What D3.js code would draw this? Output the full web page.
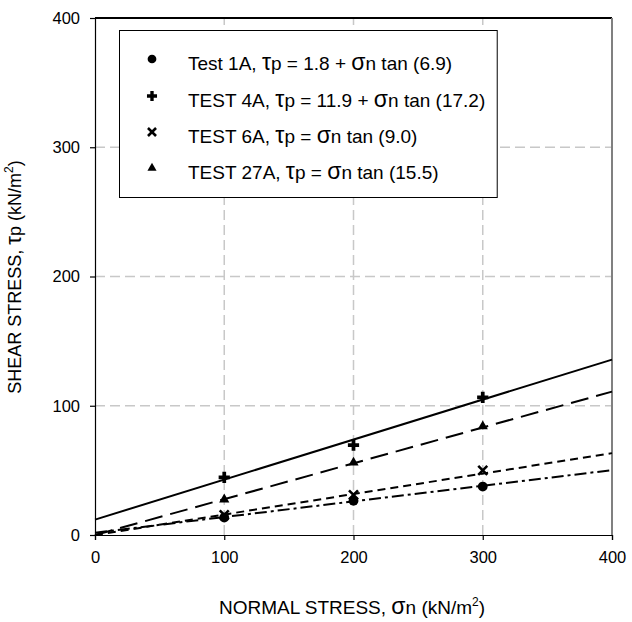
<!DOCTYPE html>
<html>
<head>
<meta charset="utf-8">
<script src="https://cdn.jsdelivr.net/npm/d3@7"></script>
<style>
  html, body { margin: 0; padding: 0; background: #fff; }
  svg { display: block; font-family: "Liberation Sans", Arial, sans-serif; }
</style>
</head>
<body>
<svg id="chart" width="632" height="622"></svg>
<script>
// Peak shear strength test results
const normalStress = [100, 200, 300];
const test1A  = [13.5, 26.5, 37.5];
const test4A  = [44.5, 69.5, 106.5];
const test6A  = [15.5, 31, 50];
const test27A = [27.5, 56, 84];

// Failure envelopes: tau = c + sigma * tan(phi)
const seriesNames = ["Test 1A", "TEST 4A", "TEST 6A", "TEST 27A"];
const cohesion = [1.8, 11.9, 0, 0];
const frictionAngle = [6.9, 17.2, 9.0, 15.5];
const cohesionLabels = ["1.8 + ", "11.9 + ", "", ""];
const angleLabels = ["6.9", "17.2", "9.0", "15.5"];

const xTicks = [0, 100, 200, 300, 400];
const yTicks = [0, 100, 200, 300, 400];

const svg = d3.select("#chart");
const x = d3.scaleLinear().domain([0, 400]).range([95, 612]);
const y = d3.scaleLinear().domain([0, 400]).range([535, 18]);

// grid
const grid = svg.append("g").attr("stroke", "#c8c8c8").attr("stroke-width", 1.5)
  .attr("stroke-dasharray", "10,5");
grid.selectAll(".gx").data([100, 200, 300]).join("line")
  .attr("x1", d => x(d)).attr("x2", d => x(d)).attr("y1", y(0)).attr("y2", y(400));
grid.selectAll(".gy").data([100, 200, 300]).join("line")
  .attr("y1", d => y(d)).attr("y2", d => y(d)).attr("x1", x(0)).attr("x2", x(400));

// plot frame top and right
svg.append("line").attr("x1", x(0)).attr("x2", x(400)).attr("y1", y(400)).attr("y2", y(400))
  .attr("stroke", "#000").attr("stroke-width", 1.8);
svg.append("line").attr("x1", x(400)).attr("x2", x(400)).attr("y1", y(400)).attr("y2", y(0))
  .attr("stroke", "#808080").attr("stroke-width", 2);

// axes
const xAxis = d3.axisBottom(x).tickValues(xTicks).tickSize(5).tickPadding(11).tickFormat(d3.format("d"));
const yAxis = d3.axisLeft(y).tickValues(yTicks).tickSize(5).tickPadding(10).tickFormat(d3.format("d"));
const gx = svg.append("g").attr("transform", `translate(0,${y(0)})`).call(xAxis);
const gy = svg.append("g").attr("transform", `translate(${x(0)},0)`).call(yAxis);
[gx, gy].forEach(g => {
  g.select(".domain").attr("stroke", "#000").attr("stroke-width", 1.2);
  g.selectAll(".tick line").attr("stroke", "#000").attr("stroke-width", 1.2);
  g.selectAll(".tick text").attr("font-size", 16.5).attr("fill", "#000")
    .attr("font-family", "Liberation Sans, Arial, sans-serif");
});

// fitted envelopes
const dashes = ["12,4,3,4", null, "8,5", "18,8"];
const envelopes = seriesNames.map((name, i) => ({
  name,
  pts: [0, 400].map(s => [s, cohesion[i] + s * Math.tan(frictionAngle[i] * Math.PI / 180)])
}));
const line = d3.line().x(d => x(d[0])).y(d => y(d[1]));
svg.append("g").selectAll("path").data(envelopes).join("path")
  .attr("d", d => line(d.pts))
  .attr("fill", "none").attr("stroke", "#000").attr("stroke-width", 2)
  .attr("stroke-dasharray", (d, i) => dashes[i]);

// marker drawing: circle, plus, times, triangle
const markerTypes = [d3.symbolCircle, d3.symbolCross, d3.symbolTimes, d3.symbolTriangle];
const markerSizes = [75, 70, 55, 45];
function drawMarker(sel, i, scale) {
  const sym = d3.symbol().type(markerTypes[i]).size(markerSizes[i] * scale);
  sel.attr("d", sym());
  if (i === 2) {
    sel.attr("fill", "none").attr("stroke", "#000").attr("stroke-width", 2.6);
  } else {
    sel.attr("fill", "#000").attr("stroke", "none");
  }
}

const seriesValues = [test1A, test4A, test6A, test27A];
seriesValues.forEach((vals, i) => {
  svg.append("g").selectAll("path").data(vals).join("path")
    .attr("transform", (d, j) => `translate(${x(normalStress[j])},${y(d)})`)
    .call(drawMarker, i, 1);
});

// legend
const lg = svg.append("g");
const legendBox = lg.append("rect").attr("x", 119.5).attr("y", 30.5).attr("height", 167)
  .attr("fill", "#fff").attr("stroke", "#000").attr("stroke-width", 1);
const rowY = [70, 107, 143, 179];
let maxRight = 0;
seriesNames.forEach((name, i) => {
  lg.append("path").attr("transform", `translate(152,${rowY[i] - 11})`)
    .call(drawMarker, i, 0.8);
  const t = lg.append("text").attr("x", 188).attr("y", rowY[i]).attr("font-size", 19).attr("fill", "#000");
  t.append("tspan").text(name + ", ");
  t.append("tspan").attr("font-size", 23).text("τ");
  t.append("tspan").text("p = " + cohesionLabels[i]);
  t.append("tspan").attr("font-size", 23).text("σ");
  t.append("tspan").text("n tan (" + angleLabels[i] + ")");
  const b = t.node().getBBox();
  maxRight = Math.max(maxRight, b.x + b.width);
});
legendBox.attr("width", maxRight + 12 - 119.5);

// axis titles
const xt = svg.append("text").attr("x", 352).attr("y", 614).attr("text-anchor", "middle")
  .attr("font-size", 19).attr("fill", "#000");
xt.append("tspan").text("NORMAL STRESS, ");
xt.append("tspan").attr("font-size", 23).text("σ");
xt.append("tspan").text("n (kN/m");
xt.append("tspan").attr("font-size", 12).attr("dy", -8).text("2");
xt.append("tspan").attr("dy", 8).text(")");

const yt = svg.append("text").attr("transform", "translate(21,277) rotate(-90)")
  .attr("text-anchor", "middle").attr("font-size", 18).attr("fill", "#000");
yt.append("tspan").text("SHEAR STRESS, ");
yt.append("tspan").attr("font-size", 22).text("τ");
yt.append("tspan").text("p (kN/m");
yt.append("tspan").attr("font-size", 12).attr("dy", -8).text("2");
yt.append("tspan").attr("dy", 8).text(")");
</script>
</body>
</html>
